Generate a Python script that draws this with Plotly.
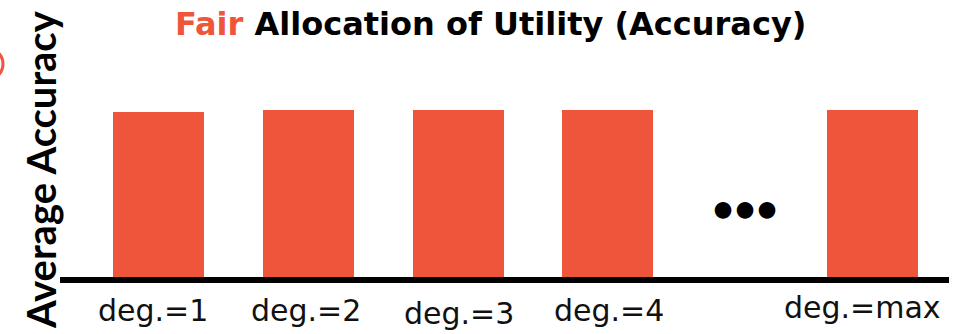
import plotly.graph_objects as go

# Data
categories = ["deg.=1", "deg.=2", "deg.=3", "deg.=4", "deg.=max"]
slots = [1, 2, 3, 4, 5.77]          # positions along the x axis (gap before "max")
avg_accuracy = [0.84, 0.85, 0.85, 0.85, 0.85]

BAR_COLOR = "#EE553B"
W, H = 956, 334
L, R, T, B = 60, 7, 0, 57
PW, PH = W - L - R, H - T - B


def px(x):
    return (x - L) / PW


def py(y):
    return (H - B - y) / PH


fig = go.Figure(
    go.Bar(
        x=slots,
        y=avg_accuracy,
        width=0.608,
        marker=dict(color=BAR_COLOR, line=dict(width=0)),
        hoverinfo="skip",
    )
)

# category labels under the bars (slightly staggered)
label_shift_x = [-6, -2, 1, 1, -10]
label_shift_y = [0, 0, -3, 0, 3]
for xv, txt, dx, dy in zip(slots, categories, label_shift_x, label_shift_y):
    fig.add_annotation(
        x=xv, y=0, xref="x", yref="y",
        text=txt, showarrow=False,
        xanchor="center", yanchor="middle",
        yshift=-33 + dy, xshift=dx,
        font=dict(family="DejaVu Sans", size=30, color="#111111"),
    )

# title
fig.add_annotation(
    x=px(490), y=py(24), xref="paper", yref="paper",
    text="<b><span style='color:%s'>Fair</span> Allocation of Utility (Accuracy)</b>" % BAR_COLOR,
    showarrow=False, xanchor="center", yanchor="middle",
    font=dict(family="DejaVu Sans", size=32, color="#000000"),
)

# y axis label
fig.add_annotation(
    x=px(41), y=py(170), xref="paper", yref="paper",
    text="<b>Average Accuracy</b>", textangle=-90,
    showarrow=False, xanchor="center", yanchor="middle",
    font=dict(family="Lato", size=40, color="#000000"),
)

# ellipsis between deg.=4 and deg.=max
fig.add_annotation(
    x=px(745), y=py(207), xref="paper", yref="paper",
    text="<b>•••</b>", showarrow=False, xanchor="center", yanchor="middle",
    font=dict(family="Lato", size=38, color="#000000"),
)

# partially visible marker ring at the left edge
fig.add_shape(
    type="circle", xref="paper", yref="paper",
    x0=px(-29), x1=px(3), y0=py(80), y1=py(48),
    line=dict(color=BAR_COLOR, width=3),
)

fig.update_xaxes(
    range=[0.3407, 6.279], showgrid=False, zeroline=False,
    showticklabels=False, ticks="",
    showline=True, linecolor="#000000", linewidth=6,
)
fig.update_yaxes(
    range=[0, 1.41], showgrid=False, zeroline=False,
    showticklabels=False, ticks="", showline=False,
)
fig.update_layout(
    width=W, height=H,
    margin=dict(l=L, r=R, t=T, b=B, pad=0),
    paper_bgcolor="white", plot_bgcolor="white",
    showlegend=False, bargap=0,
)

fig.write_html("out.html")
